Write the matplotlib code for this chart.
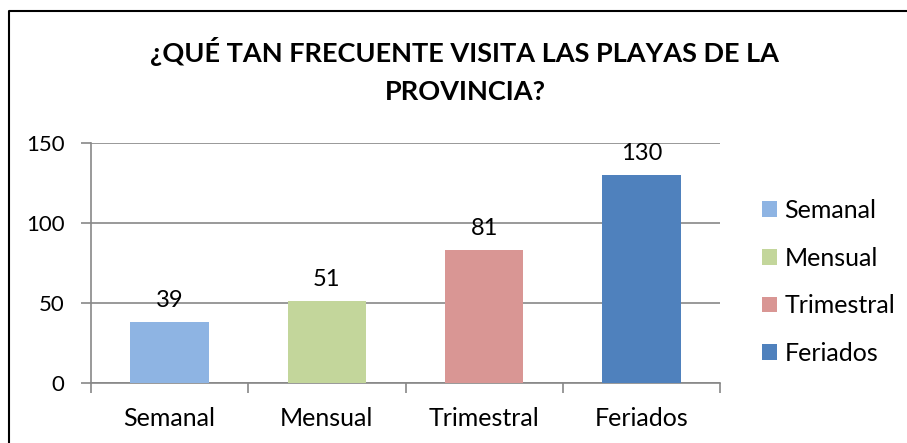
import matplotlib.pyplot as plt
from matplotlib.lines import Line2D

plt.rcParams['font.family'] = ['Lato', 'DejaVu Sans']

categories = ['Semanal', 'Mensual', 'Trimestral', 'Feriados']
bar_heights = [38, 51, 83, 130]
bar_labels = ['39', '51', '81', '130']
colors = ['#8eb4e3', '#c3d69b', '#d99694', '#4f81bd']
title = '¿QUÉ TAN FRECUENTE VISITA LAS PLAYAS DE LA\nPROVINCIA?'

W, H = 907, 443
fig = plt.figure(figsize=(W / 100, H / 100), dpi=100)

# plot area in pixel coords
ax = fig.add_axes([91 / W, (H - 383) / H, 629 / W, 240 / H])
x = range(len(categories))
bars = ax.bar(x, bar_heights, width=0.5, color=colors, zorder=3)

for b, lab in zip(bars, bar_labels):
    ax.annotate(lab, (b.get_x() + b.get_width() / 2, b.get_height()),
                xytext=(0, 8), textcoords='offset points',
                ha='center', va='bottom', fontsize=17)

grid_c = '#878787'
ax.set_xlim(-0.5, 3.5)
ax.set_ylim(0, 150)
ax.set_yticks([0, 50, 100, 150])
ax.set_xticks(list(x))
ax.set_xticklabels(categories, fontsize=18)
ax.set_xticks([-0.5, 0.5, 1.5, 2.5, 3.5], minor=True)
ax.tick_params(axis='x', which='major', length=0, pad=17)
ax.tick_params(axis='x', which='minor', length=7, color=grid_c, width=1.2)
ax.tick_params(axis='y', length=7, color=grid_c, width=1.2, labelsize=16, pad=12)
ax.yaxis.grid(True, color=grid_c, linewidth=1.2, zorder=0)
for s in ['top', 'right']:
    ax.spines[s].set_visible(False)
for s in ['left', 'bottom']:
    ax.spines[s].set_color(grid_c)
    ax.spines[s].set_linewidth(1.2)

fig.text(465 / W, 1 - 71 / H, title, ha='center', va='center',
         fontsize=19.5, fontweight='bold', linespacing=1.7)

fig.legend(bars, categories, loc='center left',
           bbox_to_anchor=(762 / W, 1 - 282 / H), frameon=False,
           fontsize=18, handlelength=0.6, handleheight=0.6,
           handletextpad=0.3, labelspacing=0.98,
           borderpad=0, borderaxespad=0)

# outer chart border (only top and left visible)
fig.add_artist(Line2D([9 / W, 9 / W, 1.0], [0.0, 1 - 11 / H, 1 - 11 / H],
                      transform=fig.transFigure, color='black', linewidth=1.5))

fig.savefig('out.png', dpi=100)
